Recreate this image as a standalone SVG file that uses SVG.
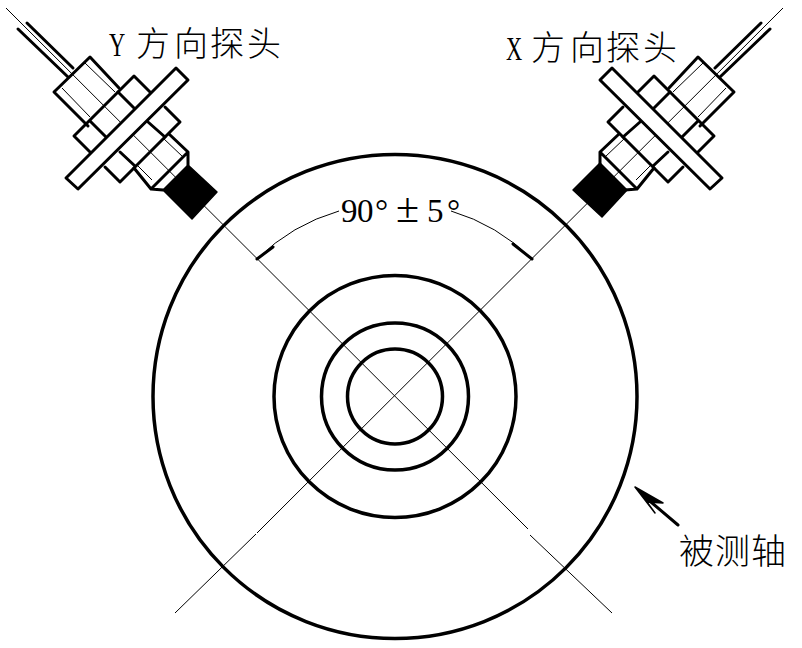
<svg xmlns="http://www.w3.org/2000/svg" xmlns:xlink="http://www.w3.org/1999/xlink" width="802" height="648" viewBox="0 0 802 648">
<style>
.k{fill:none;stroke:#000;stroke-width:3;stroke-linejoin:round;stroke-linecap:round}
.p{fill:#fff;stroke:#000;stroke-width:3;stroke-linejoin:round}
.t{fill:none;stroke:#000;stroke-width:1}
.b{fill:#000;stroke:#000;stroke-width:1.5;stroke-linejoin:round}
.c{fill:none;stroke:#000;stroke-width:3.5}
.cjk{font-family:"Noto Sans CJK SC","Liberation Serif",serif;font-size:34px;font-weight:300;fill:#000}
.lat{font-family:"Liberation Serif","Noto Sans CJK SC",serif;fill:#000}
</style>
<defs>
<g id="probe">
<path class="k" d="M73,68L27,23M68,77L18,29"/>
<path class="t" d="M85,63L115,92M62,88L90,117M163,138L183,157M137,165L152,180"/>
<path class="k" d="M119,88L90,57L54,92L88,126"/>
<path class="k" d="M150,92L134,76L74,136L90,152"/>
<path class="k" d="M118,92L134,108M90,121L106,137"/>
<path class="k" d="M165,107L180,122L120,182L105,167"/>
<path class="k" d="M148,122L165,137M120,152L135,166"/>
<path class="k" d="M169,134L188,152L188,165M134,168L151,189L163,190M188,152L151,189"/>
<path class="p" d="M176,68L188,80L78,189L66,178Z"/>
</g>
</defs>
<g id="connectors">
<path class="t" d="M6,8L528,529M530,535L612,613"/>
<path class="t" d="M783,8L257,533M256,534L175,613"/>
<path class="t" d="M339,211A194,194 0 0 0 257,259M451,211A194,194 0 0 1 532,259"/>
<path class="k" stroke-linecap="butt" d="M257,259L273,247M513,244L532,259"/>
<path class="k" d="M678,525L645,497"/>
<path class="b" stroke-width="0.5" d="M635,487L663,503L647,502L655,513Z"/>
</g>
<g id="shaft">
<circle class="c" cx="395" cy="396.5" r="242"/>
<circle class="c" cx="395" cy="396.5" r="121"/>
<circle class="c" cx="395" cy="396.5" r="73.5"/>
<circle class="c" cx="395" cy="396.5" r="47.5"/>
</g>
<g id="probe-y">
<use xlink:href="#probe" href="#probe"/>
<path class="b" d="M188,165L217,192L192,219L163,190Z"/>
</g>
<g id="probe-x">
<use href="#probe" xlink:href="#probe" transform="matrix(-1 0 0 1 788 0)"/>
<path class="b" d="M600,163L627,190L602,217L573,190Z"/>
</g>
<g id="labels">
<text class="lat" font-size="33" transform="translate(109 56) scale(0.68 1)">Y</text>
<text class="cjk" x="136 174 210 247" y="56">方向探头</text>
<text class="lat" font-size="33" transform="translate(506 60) scale(0.68 1)">X</text>
<text class="cjk" x="531 570 606 643" y="60">方向探头</text>
<text class="lat" font-size="33" x="341 357 375 385 396 427 447" y="222">90° <tspan font-size="42">±</tspan>5°</text>
<text class="cjk" x="679 715 751" y="564" style="font-size:35px">被测轴</text>
</g>
</svg>
